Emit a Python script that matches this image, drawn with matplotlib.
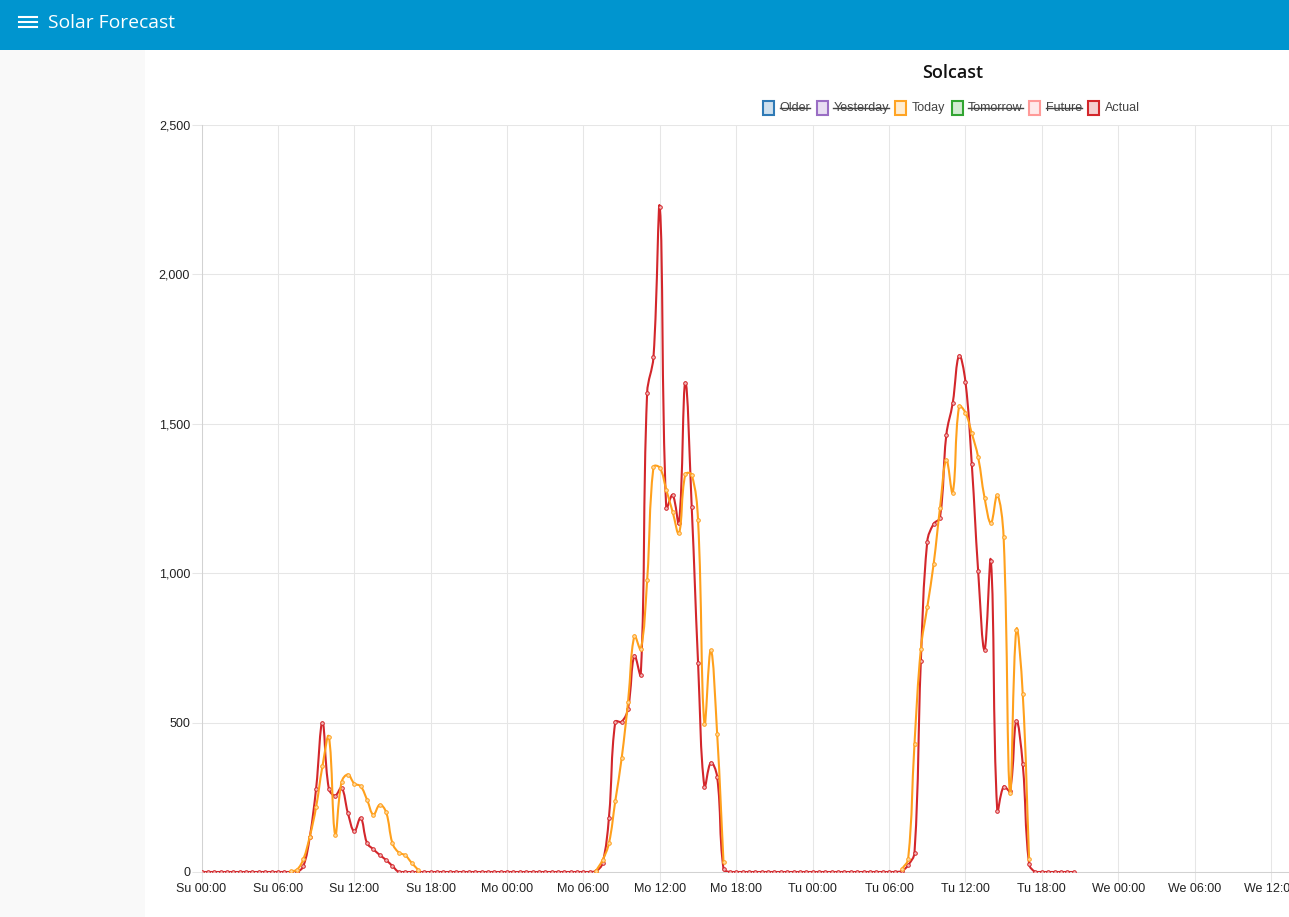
import numpy as np
import matplotlib
matplotlib.use("Agg")
import matplotlib.pyplot as plt
from matplotlib.path import Path
from matplotlib.patches import PathPatch, Rectangle
from matplotlib.lines import Line2D

# ---- data (half-hour slots, hours counted from Sunday 00:00) ----
day_names = ["Su", "Mo", "Tu", "We"]

actual_sun = [0] * 16 + [20, 116, 279, 500, 279, 256, 282, 197, 136, 181,
                         97, 76, 57, 40, 20] + [0] * 17
actual_mon = [0] * 14 + [3, 30, 182, 503, 503, 547, 724, 660, 1603, 1724, 2224,
                         1218, 1262, 1167, 1638, 1223, 701, 285, 366, 319, 10] + [0] * 13
actual_tue = [0] * 14 + [3, 23, 65, 707, 1105, 1165, 1186, 1463, 1569, 1728, 1641,
                         1364, 1007, 744, 1042, 205, 286, 272, 505, 361, 27] + [0] * 7

# "Today" forecast only exists from 07:00 to 17:00 each day
today_first_slot = 7.0
today_sun = [2, 8, 43, 118, 217, 354, 453, 125, 301, 326, 296, 287, 242, 192,
             225, 200, 96, 65, 56, 31, 8]
today_mon = [5, 40, 96, 238, 381, 569, 790, 746, 976, 1356, 1353, 1280, 1206,
             1133, 1331, 1330, 1177, 496, 743, 462, 32]
today_tue = [9, 44, 430, 747, 886, 1030, 1217, 1379, 1270, 1558, 1537, 1468,
             1388, 1253, 1168, 1261, 1120, 263, 811, 597, 44]

legend_names = ["Older", "Yesterday", "Today", "Tomorrow", "Future", "Actual"]
legend_hidden = [True, True, False, True, True, False]
legend_edge = ["#2f7ab6", "#9a6ec4", "#ffa424", "#32a532", "#ff9a98", "#d3262b"]
legend_fill = ["#cfe0ee", "#e8def2", "#ffedd2", "#d2ecd2", "#ffeaea", "#f5cfd0"]

RED = "#d3262b"
ORANGE = "#ffa01c"
GRID = "#e6e6e6"

W, H = 1289, 917
fig = plt.figure(figsize=(W / 100, H / 100), dpi=100)
fig.patch.set_facecolor("white")


def fx(px):
    return px / W


def fy(py):
    return 1 - py / H


# page chrome: header bar + side panel
fig.add_artist(Rectangle((0, fy(50)), 1, 50 / H, transform=fig.transFigure,
                         facecolor="#0095cf", edgecolor="none"))
fig.add_artist(Rectangle((0, 0), fx(145), fy(50), transform=fig.transFigure,
                         facecolor="#f9f9f9", edgecolor="none"))
for yy in (16.5, 21.5, 26.5):
    fig.add_artist(Line2D([fx(19), fx(37)], [fy(yy), fy(yy)], color="white",
                          lw=1.5, transform=fig.transFigure))
fig.text(fx(47.5), fy(27.7), "Solar Forecast", color="white", fontsize=13.9,
         family="Open Sans", va="baseline", ha="left")

# ---- axes ----
left_px, right_px, top_px, bot_px = 201.5, W, 125, 872
px_per_hour = (1271 - 201.5) / 84
ax = fig.add_axes([fx(left_px), fy(bot_px), fx(right_px - left_px), (bot_px - top_px) / H])
ax.set_facecolor("none")
ax.set_xlim(0, (right_px - left_px) / px_per_hour)
ax.set_ylim(0, 2500)

tick_hours = list(range(0, 85, 6))
ax.set_xticks(tick_hours)
ax.set_xticklabels([f"{day_names[h // 24]} {h % 24:02d}:00" for h in tick_hours])
ax.set_yticks([0, 500, 1000, 1500, 2000, 2500])
ax.set_yticklabels(["0", "500", "1,000", "1,500", "2,000", "2,500"])
ax.grid(True, color=GRID, lw=0.75)
ax.set_axisbelow(True)
ax.tick_params(length=7.2, width=0.75, color=GRID, labelsize=9,
               labelcolor="#222222", pad=1)
for lab in ax.get_xticklabels() + ax.get_yticklabels():
    lab.set_family("Liberation Sans")
for s in ("top", "right"):
    ax.spines[s].set_visible(False)
for s in ("left", "bottom"):
    ax.spines[s].set_color("#d2d2d2")
    ax.spines[s].set_linewidth(0.75)


def smooth_path(xs, ys, tension=0.4):
    # Chart.js style bezier spline, computed in pixel space
    pts = ax.transData.transform(np.column_stack([xs, ys]))
    y_lo = ax.transData.transform((0, 0))[1]
    y_hi = ax.transData.transform((0, 2500))[1]
    n = len(pts)
    cps = []
    for i in range(n):
        prev, cur, nxt = pts[max(i - 1, 0)], pts[i], pts[min(i + 1, n - 1)]
        d01 = np.hypot(*(cur - prev))
        d12 = np.hypot(*(nxt - cur))
        tot = d01 + d12
        fa = tension * (d01 / tot if tot else 0)
        fb = tension * (d12 / tot if tot else 0)
        c1 = cur - fa * (nxt - prev)
        c2 = cur + fb * (nxt - prev)
        c1[1] = np.clip(c1[1], y_lo, y_hi)
        c2[1] = np.clip(c2[1], y_lo, y_hi)
        cps.append((c1, c2))
    verts = [pts[0]]
    codes = [Path.MOVETO]
    for i in range(1, n):
        verts += [cps[i - 1][1], cps[i][0], pts[i]]
        codes += [Path.CURVE4] * 3
    verts = ax.transData.inverted().transform(np.array(verts))
    return Path(verts, codes)


def draw_series(xs, ys, color, fill, z):
    ax.add_patch(PathPatch(smooth_path(xs, ys), facecolor="none", edgecolor=color,
                           lw=1.5, zorder=z, capstyle="round", joinstyle="round"))
    ax.plot(xs, ys, ls="none", marker="o", ms=2.6, mfc=fill, mec=color, mew=0.7,
            zorder=z + 0.1)


actual = np.array(actual_sun + actual_mon + actual_tue, dtype=float)
actual_t = np.arange(len(actual)) * 0.5
draw_series(actual_t, actual, RED, "#f2b8b9", 3)

for d, vals in enumerate([today_sun, today_mon, today_tue]):
    t = 24 * d + today_first_slot + np.arange(len(vals)) * 0.5
    draw_series(t, np.array(vals, dtype=float), ORANGE, "#ffd9a0", 4)

# ---- title + legend ----
fig.text(fx(952.5), fy(73), "Solcast", fontsize=13, family="Open Sans",
         weight="semibold", ha="center", va="center", color="#111111")

renderer = fig.canvas.get_renderer()
x = 763.0
ly = 108
for name, hidden, ec, fc in zip(legend_names, legend_hidden, legend_edge, legend_fill):
    fig.add_artist(Rectangle((fx(x), fy(ly + 6.5)), fx(11), 13 / H,
                             transform=fig.transFigure, facecolor=fc,
                             edgecolor=ec, lw=1.5))
    t = fig.text(fx(x + 16.5), fy(ly), name, fontsize=9, family="Liberation Sans",
                 color="#444444", ha="left", va="center")
    wpx = t.get_window_extent(renderer).width
    if hidden:
        fig.add_artist(Line2D([fx(x + 16.5), fx(x + 16.5 + wpx)], [fy(ly), fy(ly)],
                              color="#444444", lw=1.0, transform=fig.transFigure))
    x += 16.5 + wpx + 6.5

fig.savefig("out.png", dpi=100)
